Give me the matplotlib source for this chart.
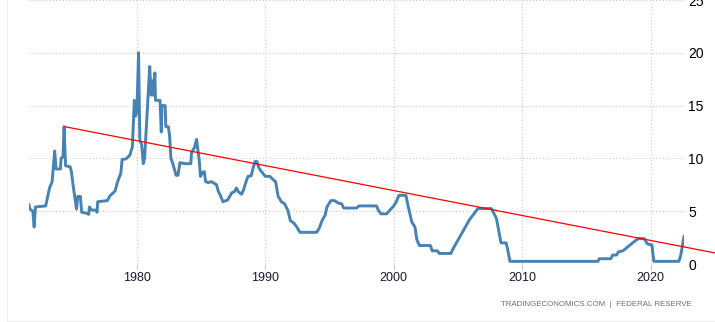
import matplotlib
matplotlib.use("Agg")
import matplotlib.pyplot as plt
from matplotlib.lines import Line2D

# Fed funds rate (%), sampled at the turning points of the series
years = [
    1971.6, 1971.67, 1971.9, 1972.0, 1972.1, 1972.9, 1973.2, 1973.4, 1973.6, 1973.7,
    1974.05, 1974.1, 1974.25, 1974.33, 1974.45, 1974.8, 1974.9, 1975.05, 1975.3, 1975.4,
    1975.6, 1975.7, 1976.1, 1976.25, 1976.3, 1976.5, 1976.8, 1976.9, 1976.95, 1977.7,
    1977.9, 1978.3, 1978.5, 1978.75, 1978.85, 1979.15, 1979.45, 1979.65, 1979.8, 1979.9,
    1980.0, 1980.13, 1980.23, 1980.37, 1980.5, 1980.6, 1980.75, 1981.0, 1981.1, 1981.15,
    1981.2, 1981.3, 1981.4, 1981.45, 1981.8, 1981.9, 1981.95, 1982.2, 1982.25, 1982.45,
    1982.55, 1982.65, 1982.8, 1983.05, 1983.2, 1983.35, 1983.75, 1984.2, 1984.25, 1984.5,
    1984.65, 1984.75, 1984.85, 1984.95, 1985.1, 1985.25, 1985.35, 1985.55, 1985.8, 1986.2,
    1986.35, 1986.5, 1986.7, 1987.05, 1987.4, 1987.6, 1987.75, 1987.9, 1988.15, 1988.3,
    1988.5, 1988.65, 1988.9, 1989.05, 1989.2, 1989.35, 1989.5, 1989.7, 1990.0, 1990.35,
    1990.6, 1990.8, 1991.0, 1991.25, 1991.5, 1991.75, 1991.95, 1992.2, 1992.4, 1992.7,
    1994.0, 1994.2, 1994.45, 1994.65, 1994.8, 1995.1, 1995.4, 1995.7, 1995.95, 1996.1,
    1997.1, 1997.3, 1998.65, 1998.8, 1999.0, 1999.45, 1999.7, 2000.0, 2000.2, 2000.4,
    2000.95, 2001.1, 2001.4, 2001.65, 2001.8, 2002.0, 2002.85, 2003.0, 2003.4, 2003.55,
    2004.45, 2004.6, 2005.3, 2005.9, 2006.55, 2007.6, 2007.8, 2008.0, 2008.2, 2008.35,
    2008.75, 2008.85, 2009.05, 2015.9, 2016.0, 2016.9, 2017.05, 2017.35, 2017.5, 2017.85,
    2018.1, 2018.5, 2018.85, 2019.05, 2019.5, 2019.75, 2020.1, 2020.25, 2022.2, 2022.35,
    2022.6,
]
rates = [
    5.6, 5.2, 5.0, 3.5, 5.4, 5.5, 7.2, 7.8, 10.7, 9.0,
    9.0, 10.0, 10.2, 13.0, 9.3, 9.2, 8.75, 7.3, 5.2, 6.4,
    6.4, 4.9, 4.8, 4.7, 5.4, 5.1, 5.1, 4.9, 5.9, 6.0,
    6.45, 6.9, 7.8, 8.6, 9.9, 9.95, 10.3, 11.1, 15.5, 14.0,
    14.4, 20.0, 11.75, 11.3, 9.5, 10.0, 13.3, 18.7, 16.0, 17.4,
    16.0, 16.0, 18.1, 15.5, 15.5, 12.5, 15.0, 15.0, 13.0, 13.0,
    12.1, 10.0, 9.5, 8.4, 8.4, 9.6, 9.5, 9.5, 10.5, 11.1,
    11.8, 10.8, 9.9, 8.3, 8.65, 8.75, 7.8, 7.7, 7.8, 7.5,
    6.85, 6.5, 5.9, 6.05, 6.75, 6.85, 7.2, 6.85, 6.6, 7.0,
    7.8, 8.3, 8.35, 9.1, 9.7, 9.7, 9.1, 8.75, 8.3, 8.3,
    8.0, 7.8, 6.4, 5.9, 5.7, 5.1, 4.1, 3.9, 3.6, 3.0,
    3.0, 3.4, 4.2, 4.6, 5.4, 6.0, 6.0, 5.75, 5.7, 5.3,
    5.3, 5.5, 5.5, 5.1, 4.75, 4.75, 5.1, 5.5, 5.9, 6.5,
    6.5, 5.6, 4.0, 3.5, 2.3, 1.75, 1.75, 1.25, 1.25, 1.0,
    1.0, 1.4, 2.9, 4.2, 5.25, 5.25, 4.8, 4.3, 3.0, 2.0,
    2.0, 1.5, 0.25, 0.25, 0.5, 0.5, 0.85, 0.85, 1.15, 1.25,
    1.5, 1.9, 2.25, 2.4, 2.4, 1.9, 1.8, 0.25, 0.25, 0.85,
    2.6,
]

# downward trend line drawn across the peaks
trend_years = [1974.4, 2025.0]
trend_values = [13.0, 1.05]

x_ticks = [1980, 1990, 2000, 2010, 2020]
y_ticks = [0, 5, 10, 15, 20, 25]

plt.rcParams['font.family'] = ['Liberation Sans', 'DejaVu Sans']

fig = plt.figure(figsize=(7.15, 3.22), dpi=100)
ax = fig.add_axes([29 / 715, 1 - 264 / 322, (684 - 29) / 715, 264 / 322])

ax.plot(years, rates, color='#4682b4', linewidth=2.1, solid_joinstyle='round', zorder=3)
ax.plot(trend_years, trend_values, color='#ff0000', linewidth=0.9, clip_on=False, zorder=4)

ax.set_xlim(1971.6, 2022.6)
ax.set_ylim(0, 25)

ax.set_xticks(x_ticks)
ax.set_yticks(y_ticks)
ax.yaxis.tick_right()
ax.tick_params(axis='y', length=0, pad=3, labelsize=10, labelcolor='#000000')
ax.tick_params(axis='x', length=4, width=0.8, color='#c8c8c8', pad=2,
               labelsize=9, labelcolor='#1a1a2e')

ax.grid(True, color='#c8c8c8', linestyle=(0, (1, 2)), linewidth=0.8)
ax.set_axisbelow(True)
for side in ax.spines.values():
    side.set_visible(False)

fig.text(692 / 715, 1 - 305 / 322, 'TRADINGECONOMICS.COM  |  FEDERAL RESERVE',
         ha='right', va='center', fontsize=5.7, color='#707070')

# faint container edges
fig.add_artist(Line2D([6.5 / 715, 6.5 / 715], [0, 1], color='#eeeeee', linewidth=0.8))
fig.add_artist(Line2D([6.5 / 715, 1], [1 - 320.5 / 322] * 2, color='#eeeeee', linewidth=0.8))

fig.savefig('out.png', dpi=100)
